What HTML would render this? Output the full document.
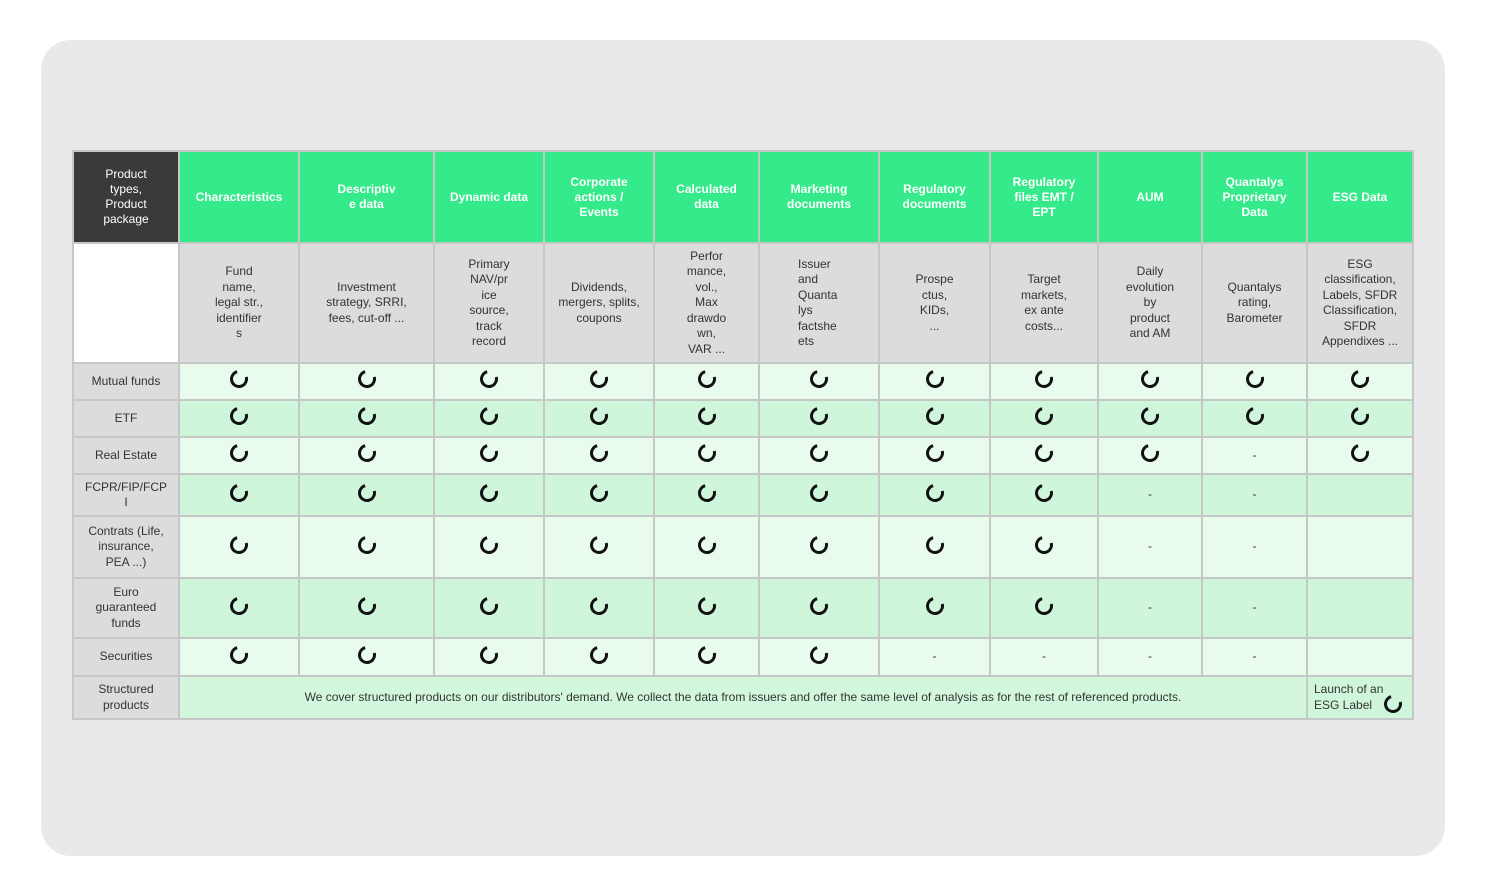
<!DOCTYPE html>
<html><head><meta charset="utf-8"><style>
body{margin:0;width:1486px;height:896px;background:#fff;position:relative;overflow:hidden;font-family:"Liberation Sans",sans-serif;}
.card{position:absolute;left:41px;top:40px;width:1404px;height:816px;background:#e9e9eb;border-radius:30px;}
table{position:absolute;left:72px;top:150px;border-collapse:separate;border-spacing:2px;background:#c6c8c8;table-layout:fixed;}
td{padding:0;text-align:center;vertical-align:middle;font-size:12px;color:#333;line-height:15.5px;overflow:hidden;}
.h td{background:#35ea8a;color:#fff;font-weight:bold;font-size:12px;line-height:15px;}
.h td.d{background:#3a3a3a;font-weight:normal;}
.ds td{background:#dcdcdc;}
.ds td.w{background:#fff;}
td.l{background:#dcdcdc;}
.a td{background:#e8fbec;}
.b td{background:#cff6db;}
.a td.l,.b td.l{background:#dcdcdc;}
.r{display:inline-block;width:12px;height:12px;border:3px solid #111;border-right-color:transparent;border-radius:50%;transform:rotate(-60deg);}
</style></head><body>
<div class="card"></div>
<table>
<colgroup><col style="width:104px"><col style="width:118px"><col style="width:133px"><col style="width:108px"><col style="width:108px"><col style="width:103px"><col style="width:118px"><col style="width:109px"><col style="width:106px"><col style="width:102px"><col style="width:103px"><col style="width:104px"></colgroup>
<tr class="h" style="height:90px"><td class="d">Product<br>types,<br>Product<br>package</td><td>Characteristics</td><td>Descriptiv<br>e data</td><td>Dynamic data</td><td>Corporate<br>actions /<br>Events</td><td>Calculated<br>data</td><td>Marketing<br>documents</td><td>Regulatory<br>documents</td><td>Regulatory<br>files EMT /<br>EPT</td><td>AUM</td><td>Quantalys<br>Proprietary<br>Data</td><td>ESG Data</td></tr>
<tr class="ds" style="height:118px"><td class="w"></td><td>Fund<br>name,<br>legal str.,<br>identifier<br>s</td><td>Investment<br>strategy, SRRI,<br>fees, cut-off ...</td><td>Primary<br>NAV/pr<br>ice<br>source,<br>track<br>record</td><td>Dividends,<br>mergers, splits,<br>coupons</td><td>Perfor<br>mance,<br>vol.,<br>Max<br>drawdo<br>wn,<br>VAR ...</td><td style="text-align:left;padding-left:38px">Issuer<br>and<br>Quanta<br>lys<br>factshe<br>ets</td><td>Prospe<br>ctus,<br>KIDs,<br>...</td><td>Target<br>markets,<br>ex ante<br>costs...</td><td>Daily<br>evolution<br>by<br>product<br>and AM</td><td>Quantalys<br>rating,<br>Barometer</td><td>ESG<br>classification,<br>Labels, SFDR<br>Classification,<br>SFDR<br>Appendixes ...</td></tr>
<tr class="a" style="height:35px"><td class="l">Mutual funds</td><td><i class="r"></i></td><td><i class="r"></i></td><td><i class="r"></i></td><td><i class="r"></i></td><td><i class="r"></i></td><td><i class="r"></i></td><td><i class="r"></i></td><td><i class="r"></i></td><td><i class="r"></i></td><td><i class="r"></i></td><td><i class="r"></i></td></tr>
<tr class="b" style="height:35px"><td class="l">ETF</td><td><i class="r"></i></td><td><i class="r"></i></td><td><i class="r"></i></td><td><i class="r"></i></td><td><i class="r"></i></td><td><i class="r"></i></td><td><i class="r"></i></td><td><i class="r"></i></td><td><i class="r"></i></td><td><i class="r"></i></td><td><i class="r"></i></td></tr>
<tr class="a" style="height:35px"><td class="l">Real Estate</td><td><i class="r"></i></td><td><i class="r"></i></td><td><i class="r"></i></td><td><i class="r"></i></td><td><i class="r"></i></td><td><i class="r"></i></td><td><i class="r"></i></td><td><i class="r"></i></td><td><i class="r"></i></td><td>-</td><td><i class="r"></i></td></tr>
<tr class="b" style="height:40px"><td class="l">FCPR/FIP/FCP<br>I</td><td><i class="r"></i></td><td><i class="r"></i></td><td><i class="r"></i></td><td><i class="r"></i></td><td><i class="r"></i></td><td><i class="r"></i></td><td><i class="r"></i></td><td><i class="r"></i></td><td>-</td><td>-</td><td></td></tr>
<tr class="a" style="height:60px"><td class="l">Contrats (Life,<br>insurance,<br>PEA ...)</td><td><i class="r"></i></td><td><i class="r"></i></td><td><i class="r"></i></td><td><i class="r"></i></td><td><i class="r"></i></td><td><i class="r"></i></td><td><i class="r"></i></td><td><i class="r"></i></td><td>-</td><td>-</td><td></td></tr>
<tr class="b" style="height:58px"><td class="l">Euro<br>guaranteed<br>funds</td><td><i class="r"></i></td><td><i class="r"></i></td><td><i class="r"></i></td><td><i class="r"></i></td><td><i class="r"></i></td><td><i class="r"></i></td><td><i class="r"></i></td><td><i class="r"></i></td><td>-</td><td>-</td><td></td></tr>
<tr class="a" style="height:36px"><td class="l">Securities</td><td><i class="r"></i></td><td><i class="r"></i></td><td><i class="r"></i></td><td><i class="r"></i></td><td><i class="r"></i></td><td><i class="r"></i></td><td>-</td><td>-</td><td>-</td><td>-</td><td></td></tr>
<tr class="b" style="height:41px"><td class="l">Structured<br>products</td><td colspan="10" style="background:#d2f7dc">We cover structured products on our distributors' demand. We collect the data from issuers and offer the same level of analysis as for the rest of referenced products.</td><td style="text-align:left;padding-left:6px;position:relative">Launch of an<br>ESG Label <i class="r" style="position:absolute;right:10px;bottom:5px"></i></td></tr>
</table>
</body></html>
